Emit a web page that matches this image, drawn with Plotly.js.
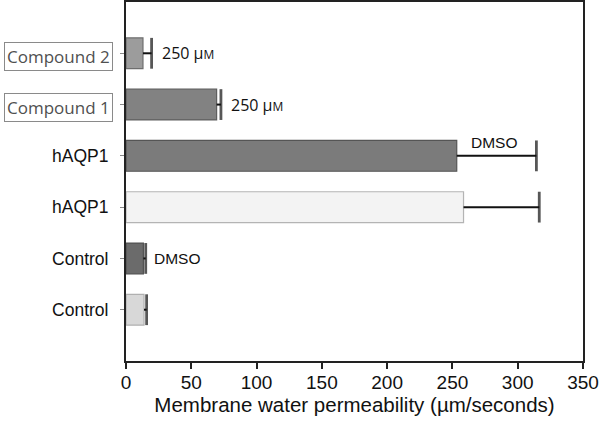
<!DOCTYPE html>
<html>
<head>
<meta charset="utf-8">
<script src="https://cdn.plot.ly/plotly-3.0.1.min.js"></script>
<style>html,body{margin:0;padding:0;background:#fff;}#chart{width:600px;height:427px;}</style>
</head>
<body>
<div id="chart"></div>
<script>
// Data (bottom to top)
var categories = ['Control', 'Control', 'hAQP1', 'hAQP1', 'Compound 1', 'Compound 2'];
var treatments = ['', 'DMSO', '', 'DMSO', '250 μM', '250 μM'];
var values = [13.8, 13.3, 258.5, 253.3, 69.4, 13.0];
var errors = [2.0, 1.8, 58.0, 61.0, 3.3, 6.6];
var barColors = ['#d8d8d8', '#6b6b6b', '#f3f3f3', '#7b7b7b', '#828282', '#9c9c9c'];
var barLines = ['#b0b0b0', '#505050', '#b4b4b4', '#555555', '#5e5e5e', '#6e6e6e'];
var xTicks = [0, 50, 100, 150, 200, 250, 300, 350];

var pos = categories.map(function (c, i) { return i; });

var bars = {
  type: 'bar', orientation: 'h',
  x: values, y: pos, width: 0.6,
  marker: { color: barColors, line: { color: barLines, width: 1.2 } },
  hoverinfo: 'none', showlegend: false
};

// error bars: stem from bar end to bar end + error, with a cap at the end only
var ex = [], ey = [], es = [];
values.forEach(function (v, i) {
  ex.push(v, v + errors[i], null);
  ey.push(i, i, null);
  es.push(0, 22, 0);
});
var errs = {
  type: 'scatter', mode: 'lines+markers',
  x: ex, y: ey,
  line: { color: '#111', width: 2 },
  marker: { symbol: 'line-ns', size: es, color: '#111', line: { color: '#111', width: 2.8 } },
  hoverinfo: 'none', showlegend: false, cliponaxis: false
};

var annotations = [];
pos.forEach(function (i) {
  var c = categories[i];
  if (c.indexOf('Compound') === 0) {
    annotations.push({
      xref: 'x', yref: 'y', x: 0, y: i - 0.06, xanchor: 'right', yanchor: 'middle',
      xshift: -13, text: c, showarrow: false,
      font: { family: 'Open Sans, sans-serif', size: 17, color: '#505050' },
      bordercolor: '#8a8a8a', borderwidth: 1, borderpad: 2, bgcolor: '#fff'
    });
  }
  var t = treatments[i];
  if (!t) return;
  if (t.indexOf('μM') >= 0) {
    annotations.push({
      xref: 'x', yref: 'y', x: values[i] + errors[i], y: i, xanchor: 'left', yanchor: 'middle',
      xshift: 8, text: t.replace('M', '<span style="font-size:12px">M</span>'), showarrow: false,
      font: { family: 'Open Sans, sans-serif', size: 16, color: '#111' }
    });
  } else if (values[i] > 100) {
    annotations.push({
      xref: 'x', yref: 'y', x: 282, y: i + 0.27, xanchor: 'center', yanchor: 'middle',
      text: t, showarrow: false,
      font: { family: 'Liberation Sans, Arial, sans-serif', size: 15.5, color: '#111' }
    });
  } else {
    annotations.push({
      xref: 'x', yref: 'y', x: values[i] + errors[i], y: i, xanchor: 'left', yanchor: 'middle',
      xshift: 6, text: t, showarrow: false,
      font: { family: 'Liberation Sans, Arial, sans-serif', size: 15.5, color: '#111' }
    });
  }
});

var layout = {
  width: 600, height: 427,
  margin: { l: 126, r: 17, t: 2, b: 66 },
  paper_bgcolor: '#fff', plot_bgcolor: '#fff',
  font: { family: 'Liberation Sans, Arial, sans-serif', color: '#111' },
  xaxis: {
    range: [0, 350], tickvals: xTicks, ticktext: xTicks.map(String),
    showgrid: false, zeroline: false,
    showline: true, linecolor: '#222', linewidth: 2, mirror: true,
    ticks: 'outside', ticklen: 6, tickwidth: 2, tickcolor: '#222',
    tickfont: { size: 19, color: '#111' }, ticklabelstandoff: -3,
    title: { text: 'Membrane water permeability (µm/seconds)', font: { size: 20.5, color: '#111' }, standoff: 2 }
  },
  yaxis: {
    range: [-1, 6], tickvals: pos,
    ticktext: categories.map(function (c) { return c.indexOf('Compound') === 0 ? '' : c; }),
    showgrid: false, zeroline: false,
    showline: true, linecolor: '#222', linewidth: 2, mirror: true,
    ticks: 'outside', ticklen: 4, tickwidth: 1, tickcolor: '#888',
    tickfont: { size: 17.5, color: '#111' }, ticklabelstandoff: 8
  },
  annotations: annotations
};

Plotly.newPlot('chart', [bars, errs], layout, { staticPlot: true, displayModeBar: false });
</script>
</body>
</html>
